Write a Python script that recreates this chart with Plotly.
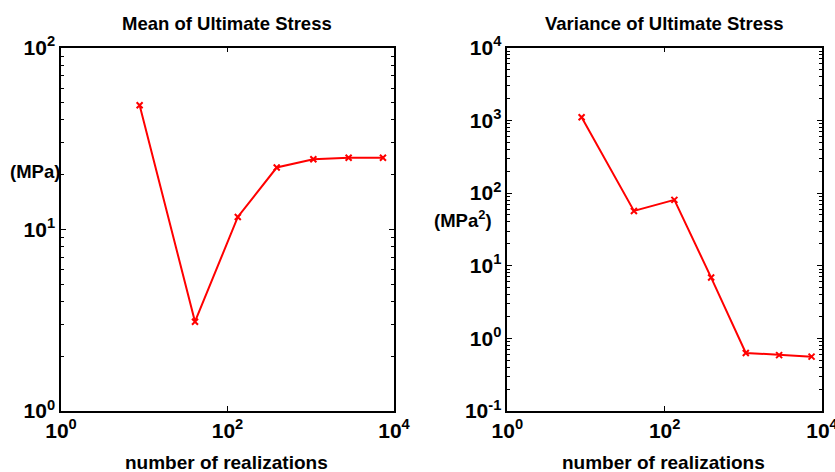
import plotly.graph_objects as go

# Data
realizations = [8.8, 40.7, 133, 390, 1075, 2850, 7370]
mean_stress = [48.2, 3.1, 11.7, 21.9, 24.3, 24.8, 24.8]
var_stress = [1103, 56.7, 80.4, 6.86, 0.63, 0.587, 0.56]

x_tickvals = [1, 100, 10000]
x_ticktext = ["10<sup>0</sup>", "10<sup>2</sup>", "10<sup>4</sup>"]
y1_tickvals = [1, 10, 100]
y1_ticktext = ["10<sup>0</sup>", "10<sup>1</sup>", "10<sup>2</sup>"]
y2_tickvals = [0.1, 1, 10, 100, 1000, 10000]
y2_ticktext = ["10<sup>-1</sup>", "10<sup>0</sup>", "10<sup>1</sup>", "10<sup>2</sup>",
               "10<sup>3</sup>", "10<sup>4</sup>"]

W, H = 835, 472
FONT = "Liberation Sans"

fig = go.Figure()
line = dict(color="#ff0000", width=2)
marker = dict(symbol="x-thin", size=6, color="#ff0000", line=dict(color="#ff0000", width=2))
fig.add_trace(go.Scatter(x=realizations, y=mean_stress, mode="lines+markers",
                         line=line, marker=marker, xaxis="x", yaxis="y", showlegend=False))
fig.add_trace(go.Scatter(x=realizations, y=var_stress, mode="lines+markers",
                         line=line, marker=marker, xaxis="x2", yaxis="y2", showlegend=False))

ydom = [1 - 411 / H, 1 - 47.7 / H]
axis_common = dict(type="log", showgrid=False, zeroline=False, showline=True,
                   linecolor="black", linewidth=1.5, mirror="allticks", automargin=False,
                   ticklabeloverflow="allow",
                   ticks="inside", ticklen=5, tickcolor="black", tickwidth=1,
                   tickfont=dict(family=FONT, size=21, color="black", weight="bold"))

fig.update_layout(
    width=W, height=H, margin=dict(l=0, r=0, t=0, b=0, autoexpand=False),
    plot_bgcolor="white", paper_bgcolor="white",
    xaxis=dict(axis_common, domain=[61 / W, 394 / W], range=[0, 4],
               tickvals=x_tickvals, ticktext=x_ticktext, anchor="y"),
    yaxis=dict(axis_common, domain=ydom, range=[0, 2],
               tickvals=y1_tickvals, ticktext=y1_ticktext, anchor="x",
               minor=dict(ticks="inside", ticklen=3, tickcolor="black",
                          tickvals=[2, 3, 4, 5, 6, 7, 8, 9, 20, 30, 40, 50, 60, 70, 80, 90])),
    xaxis2=dict(axis_common, domain=[507.3 / W, 822 / W], range=[0, 4],
                tickvals=x_tickvals, ticktext=x_ticktext, anchor="y2"),
    yaxis2=dict(axis_common, domain=ydom, range=[-1, 4],
                tickvals=y2_tickvals, ticktext=y2_ticktext, anchor="x2",
                minor=dict(ticks="inside", ticklen=3, tickcolor="black",
                           tickvals=[m * d for d in [0.1, 1, 10, 100, 1000] for m in range(2, 10)])),
)

tfont = dict(family=FONT, size=18.5, color="black", weight="bold")
lfont = dict(family=FONT, size=19, color="black", weight="bold")
ann = [
    dict(text="Mean of Ultimate Stress", x=227.5 / W, y=1 - 24 / H, font=tfont),
    dict(text="Variance of Ultimate Stress", x=664.6 / W, y=1 - 24 / H, font=tfont),
    dict(text="number of realizations", x=226 / W, y=1 - 462 / H, font=lfont),
    dict(text="number of realizations", x=663 / W, y=1 - 462 / H, font=lfont),
    dict(text="(MPa)", x=35 / W, y=1 - 172 / H, font=tfont),
    dict(text="(MPa<sup>2</sup>)", x=463 / W, y=1 - 219 / H, font=tfont),
]
for a in ann:
    fig.add_annotation(xref="paper", yref="paper", showarrow=False,
                       xanchor="center", yanchor="middle", **a)

fig.write_html("out.html")
